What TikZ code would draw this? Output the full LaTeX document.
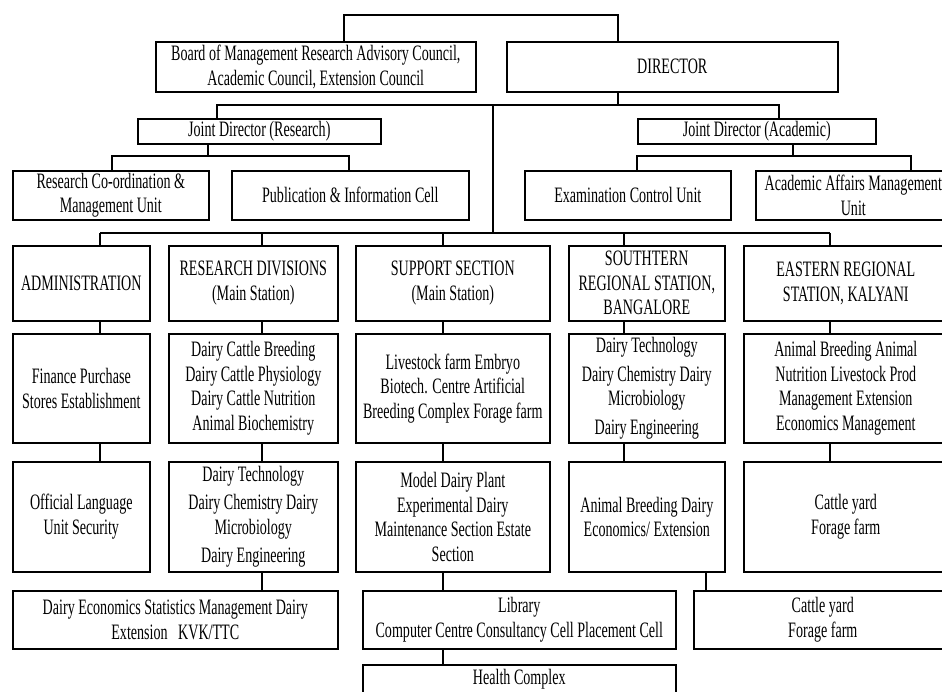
\documentclass[tikz,border=0pt]{standalone}
\usepackage{fontspec}
\newfontfamily\orgfont{Liberation Serif}[FakeStretch=0.64]
\usetikzlibrary{positioning}

\begin{document}
\begin{tikzpicture}[
  x=1pt,y=-1pt,
  every node/.style={font=\orgfont\fontsize{22}{24.5}\selectfont},
  box/.style={draw,line width=1.6pt,inner sep=0pt,align=center,anchor=north west},
  ln/.style={line width=1.6pt},
  rowa/.style={minimum height=75pt},
  rowb/.style={minimum height=109pt},
  rowc/.style={minimum height=110pt},
  cadm/.style={minimum width=137pt},
  crd/.style={minimum width=169pt},
  csup/.style={minimum width=194pt},
  csrs/.style={minimum width=156pt},
  cers/.style={minimum width=204pt}
]
\useasboundingbox (0,0) rectangle (942,691);
\fill[white] (0,0) rectangle (942,691);
\clip (0,0) rectangle (942,691);

\node[box,minimum width=320pt,minimum height=50pt] (board) at (155,41)
  {Board of Management Research Advisory Council,\\Academic Council, Extension Council};
\node[box,minimum width=331pt,minimum height=50pt] (dir) at (506,41) {DIRECTOR};
\node[box,minimum width=243pt,minimum height=25pt] (jdr) at (137,118) {Joint Director (Research)};
\node[box,minimum width=238pt,minimum height=25pt] (jda) at (637,118) {Joint Director (Academic)};
\node[box,minimum width=196pt,minimum height=49pt] (rcmu) at (12,170) {Research Co-ordination \&\\Management Unit};
\node[box,minimum width=237pt,minimum height=49pt] (pic) at (231,170) {Publication \& Information Cell};
\node[box,minimum width=206pt,minimum height=49pt] (ecu) at (524,170) {Examination Control Unit};
\node[box,minimum width=195pt,minimum height=49pt] (aamu) at (755,170) {Academic Affairs Management\\Unit};

\node[box,rowa,cadm] (adm1) at (12,245) {ADMINISTRATION};
\node[box,rowa,crd] (rd1) at (168,245) {RESEARCH DIVISIONS\\(Main Station)};
\node[box,rowa,csup] (sup1) at (355,245) {SUPPORT SECTION\\(Main Station)};
\node[box,rowa,csrs] (srs1) at (568,245) {SOUTHTERN\\REGIONAL STATION,\\BANGALORE};
\node[box,rowa,cers] (ers1) at (743,245) {EASTERN REGIONAL\\STATION, KALYANI};

\node[box,rowb,cadm] (adm2) at (12,333) {Finance Purchase\\Stores Establishment};
\node[box,rowb,crd] (rd2) at (168,333)
  {Dairy Cattle Breeding\\Dairy Cattle Physiology\\Dairy Cattle Nutrition\\Animal Biochemistry};
\node[box,rowb,csup] (sup2) at (355,333)
  {Livestock farm Embryo\\Biotech. Centre Artificial\\Breeding Complex Forage farm};
\node[box,rowb,csrs] (srs2) at (568,333)
  {Dairy Technology\\[4pt]Dairy Chemistry Dairy\\Microbiology\\[4pt]Dairy Engineering};
\node[box,rowb,cers] (ers2) at (743,333)
  {Animal Breeding Animal\\Nutrition Livestock Prod\\Management Extension\\Economics Management};

\node[box,rowc,cadm] (adm3) at (12,461) {Official Language\\Unit Security};
\node[box,rowc,crd] (rd3) at (168,461)
  {Dairy Technology\\[4pt]Dairy Chemistry Dairy\\Microbiology\\[4pt]Dairy Engineering};
\node[box,rowc,csup] (sup3) at (355,461)
  {Model Dairy Plant\\Experimental Dairy\\Maintenance Section Estate\\Section};
\node[box,rowc,csrs] (srs3) at (568,461) {Animal Breeding Dairy\\Economics/ Extension};
\node[box,rowc,cers] (ers3) at (743,461) {Cattle yard\\Forage farm};

\node[box,minimum width=325pt,minimum height=58pt] (dec) at (12,590)
  {Dairy Economics Statistics Management Dairy\\Extension\ \ \ KVK/TTC};
\node[box,minimum width=313pt,minimum height=58pt] (lib) at (362,590)
  {Library\\Computer Centre Consultancy Cell Placement Cell};
\node[box,minimum width=258pt,minimum height=58pt] (cy) at (693,590) {Cattle yard\\Forage farm};
\node[box,minimum width=313pt,minimum height=28pt] (hc) at (362,664) {Health Complex};

\coordinate (tb) at (344,15);
\coordinate (td) at (618,15);
\coordinate (jm) at (618,105);
\coordinate (jl) at (217,105);
\coordinate (jr) at (779,105);
\coordinate (jv) at (493,105);
\coordinate (rm) at (208,156);
\coordinate (rl) at (112,156);
\coordinate (rr) at (349,156);
\coordinate (am) at (793,156);
\coordinate (al) at (637,156);
\coordinate (ar) at (911,156);
\coordinate (b1) at (100,233);
\coordinate (b2) at (262,233);
\coordinate (b3) at (443,233);
\coordinate (b4) at (624,233);
\coordinate (b5) at (830,233);
\coordinate (b6) at (706,571);

\draw[ln] (tb |- board.north) -- (tb) -- (td) -- (td |- dir.north);
\draw[ln] (td |- dir.south) -- (jm);
\draw[ln] (jl |- jdr.north) -- (jl) -- (jr) -- (jr |- jda.north);
\draw[ln] (jv) -- (jv |- b1);
\draw[ln] (rm |- jdr.south) -- (rm);
\draw[ln] (rl |- rcmu.north) -- (rl) -- (rr) -- (rr |- pic.north);
\draw[ln] (am |- jda.south) -- (am);
\draw[ln] (al |- ecu.north) -- (al) -- (ar) -- (ar |- aamu.north);
\draw[ln] (b1) -- (b5);
\draw[ln] (b1) -- (b1 |- adm1.north);
\draw[ln] (b2) -- (b2 |- rd1.north);
\draw[ln] (b3) -- (b3 |- sup1.north);
\draw[ln] (b4) -- (b4 |- srs1.north);
\draw[ln] (b5) -- (b5 |- ers1.north);
\draw[ln] (b1 |- adm1.south) -- (b1 |- adm2.north);
\draw[ln] (b1 |- adm2.south) -- (b1 |- adm3.north);
\draw[ln] (b2 |- rd1.south) -- (b2 |- rd2.north);
\draw[ln] (b2 |- rd2.south) -- (b2 |- rd3.north);
\draw[ln] (b2 |- rd3.south) -- (b2 |- dec.north);
\draw[ln] (b3 |- sup1.south) -- (b3 |- sup2.north);
\draw[ln] (b3 |- sup2.south) -- (b3 |- sup3.north);
\draw[ln] (b3 |- sup3.south) -- (b3 |- lib.north);
\draw[ln] (b3 |- lib.south) -- (b3 |- hc.north);
\draw[ln] (b4 |- srs1.south) -- (b4 |- srs2.north);
\draw[ln] (b4 |- srs2.south) -- (b4 |- srs3.north);
\draw[ln] (b6) -- (b6 |- cy.north);
\draw[ln] (b5 |- ers1.south) -- (b5 |- ers2.north);
\draw[ln] (b5 |- ers2.south) -- (b5 |- ers3.north);
\end{tikzpicture}
\end{document}
